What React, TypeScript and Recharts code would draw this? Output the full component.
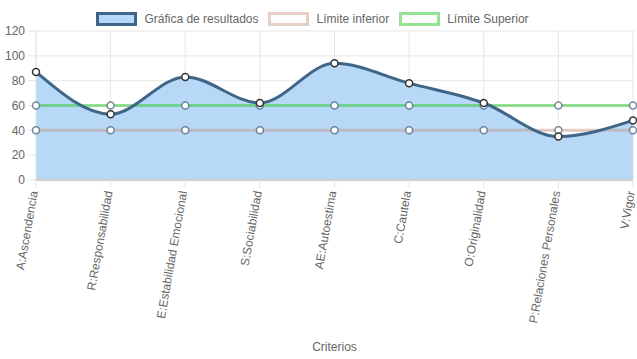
import React from 'react';
import { ComposedChart, Area, Line, XAxis, YAxis, CartesianGrid, Legend } from 'recharts';

const categories = ['A:Ascendencia', 'R:Responsabilidad', 'E:Estabilidad Emocional', 'S:Sociabilidad', 'AE:Autoestima', 'C:Cautela', 'O:Originalidad', 'P:Relaciones Personales', 'V:Vigor'];
const resultados = [87, 53, 83, 62, 94, 78, 62, 35, 48];
const limiteInferior = [40, 40, 40, 40, 40, 40, 40, 40, 40];
const limiteSuperior = [60, 60, 60, 60, 60, 60, 60, 60, 60];
const yTicks = [0, 20, 40, 60, 80, 100, 120];

const data = categories.map((c, i) => ({
  name: c,
  res: resultados[i],
  inf: limiteInferior[i],
  sup: limiteSuperior[i],
}));

const FONT = '"Liberation Sans", Arial, sans-serif';
const TXT = '#666';

const RotTick = (props: any) => {
  const { x, y, payload } = props;
  return (
    <g transform={`translate(${x - 2},${y + 1})`}>
      <text transform="rotate(-80)" x={0} y={0} dy={4} textAnchor="end" fill={TXT} fontSize={12} fontFamily={FONT}>
        {payload.value}
      </text>
    </g>
  );
};

const legendItems = [
  { label: 'Gráfica de resultados', fill: '#b7d8f6', stroke: '#3f6688' },
  { label: 'Límite inferior', fill: '#ffffff', stroke: '#e6cfc5' },
  { label: 'Límite Superior', fill: '#ffffff', stroke: '#93e593' },
];

const LegendContent = () => (
  <div style={{ height: 24, display: 'flex', justifyContent: 'center', alignItems: 'center', fontFamily: FONT, fontSize: 12, color: TXT, paddingLeft: 2 }}>
    {legendItems.map((it) => (
      <div key={it.label} style={{ display: 'flex', alignItems: 'center', marginRight: 10 }}>
        <div style={{ width: 35, height: 8, background: it.fill, border: `3px solid ${it.stroke}`, marginRight: 7 }} />
        <span>{it.label}</span>
      </div>
    ))}
  </div>
);

export default function App() {
  return (
    <div style={{ position: 'absolute', left: 0, top: 0 }}>
      <ComposedChart width={637} height={359} data={data} margin={{ top: 7, right: 4, bottom: 0, left: 0 }}>
        <Legend verticalAlign="top" align="center" height={24} content={<LegendContent />} />
        <CartesianGrid stroke="#e6e6e6" vertical={true} horizontal={true} />
        <XAxis
          dataKey="name"
          interval={0}
          height={179}
          tick={<RotTick />}
          tickSize={8}
          tickMargin={2}
          tickLine={{ stroke: '#e6e6e6' }}
          axisLine={{ stroke: '#cfcfcf', strokeWidth: 2 }}
          label={{ value: 'Criterios', position: 'insideBottom', offset: 8, fill: TXT, fontSize: 12, fontFamily: FONT }}
        />
        <YAxis
          domain={[0, 120]}
          ticks={yTicks}
          width={36}
          tickSize={8}
          tickMargin={3}
          tickLine={{ stroke: '#e6e6e6' }}
          axisLine={{ stroke: '#e6e6e6' }}
          tick={{ fill: TXT, fontSize: 12, fontFamily: FONT }}
        />
        <Area type="monotone" dataKey="res" fill="#b7d8f6" fillOpacity={1} stroke="none" isAnimationActive={false} dot={false} activeDot={false} />
        <Line type="monotone" dataKey="inf" stroke="rgba(200,150,130,0.45)" strokeWidth={3} isAnimationActive={false}
          dot={{ r: 3.5, fill: '#fff', stroke: 'rgba(60,90,120,0.7)', strokeWidth: 1.5 }} activeDot={false} />
        <Line type="monotone" dataKey="sup" stroke="rgba(60,200,60,0.55)" strokeWidth={3} isAnimationActive={false}
          dot={{ r: 3.5, fill: '#fff', stroke: 'rgba(60,90,120,0.7)', strokeWidth: 1.5 }} activeDot={false} />
        <Line type="monotone" dataKey="res" stroke="#3f6688" strokeWidth={3} isAnimationActive={false}
          dot={{ r: 3.5, fill: '#fff', stroke: '#333', strokeWidth: 1.5 }} activeDot={false} />
      </ComposedChart>
    </div>
  );
}
